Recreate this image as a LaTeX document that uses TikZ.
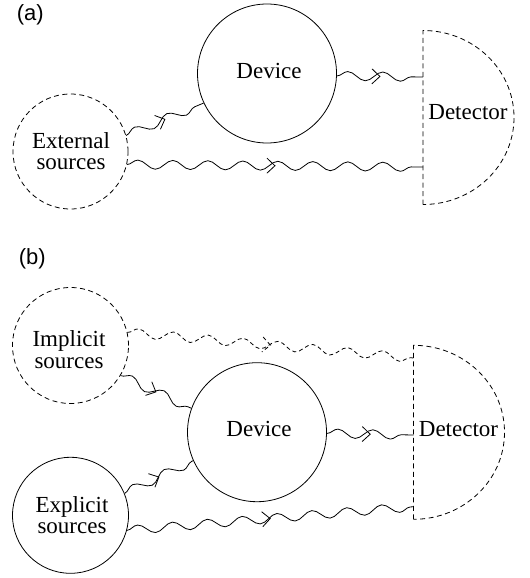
\documentclass[tikz,border=0pt]{standalone}
\usepackage{fontspec}
\setmainfont{Liberation Serif}
\newfontfamily\labelfont{Liberation Sans}
\usetikzlibrary{decorations.pathmorphing,decorations.markings}
\newcommand\wavelink[3][]{%
  \draw[photon,#1] (#2) -- (#3);
  \path[decorate, decoration={markings, mark=at position 0.5 with {\draw[#1] (-8bp,7.5bp) -- (0,0) -- (-8bp,-7.5bp);}}] (#2) -- (#3);
}
\begin{document}
\begin{tikzpicture}[x=1bp,y=-1bp, line width=0.8bp,
  src/.style={circle, draw, minimum size=115bp, inner sep=0pt},
  hidden/.style={dash pattern=on 5bp off 3.5bp},
  devc/.style={circle, draw, minimum size=139bp, inner sep=0pt},
  txt/.style={font=\fontsize{23bp}{21.5bp}\selectfont, align=center, inner sep=0pt},
  tag/.style={font=\labelfont\fontsize{22bp}{26bp}\selectfont, anchor=base west, inner sep=0pt},
  photon/.style={decorate, decoration={snake, segment length=35bp, amplitude=4.5bp}},
  faint/.style={dash pattern=on 4bp off 3bp},
]
\useasboundingbox (0,0) rectangle (530,578);

% ---------- panel (a) ----------
\node[tag] (labA) at (16.5,20.4) {(a)};
\node[src, hidden] (ext) at (70.5,151.5) {};
\node[devc] (devA) at (267,73.5) {};
\draw[hidden] (423,204.5) -- (423,30.5) arc[start angle=90, end angle=-90, x radius=91bp, y radius=87bp];
\coordinate (dA1) at (423,77);
\coordinate (dA2) at (423,167);
\node[txt] (extT) at (71,151) {External\\sources};
\node[txt, anchor=base] (devAT) at (269,78.3) {Device};
\node[txt, anchor=base west] (detAT) at (428,120) {Detector};

\wavelink{ext.16}{devA.205}
\wavelink{devA.-2}{dA1}
\wavelink{ext.-13}{dA2}

% ---------- panel (b) ----------
\node[tag] (labB) at (18.5,264) {(b)};
\node[src, hidden, minimum size=116bp] (imp) at (70.5,345.5) {};
\node[src, minimum size=116bp] (expl) at (70.5,515.3) {};
\node[devc] (devB) at (257,432.2) {};
\draw[hidden] (413.5,519.3) -- (413.5,345.3) arc[start angle=90, end angle=-90, x radius=91bp, y radius=87bp];
\coordinate (dB0) at (413.5,358);
\coordinate (dB1) at (413.5,435);
\coordinate (dB2) at (413.5,506.7);
\node[txt] (impT) at (69,349.5) {Implicit\\sources};
\node[txt] (explT) at (72,515) {Explicit\\sources};
\node[txt, anchor=base] (devBT) at (259,436.7) {Device};
\node[txt, anchor=base west] (detBT) at (418.5,436.7) {Detector};

\wavelink[faint]{imp.13}{dB0}
\wavelink{imp.-31}{devB.160}
\wavelink{expl.22}{devB.204}
\wavelink{devB.-1}{dB1}
\wavelink{expl.-15}{dB2}
\end{tikzpicture}
\end{document}
